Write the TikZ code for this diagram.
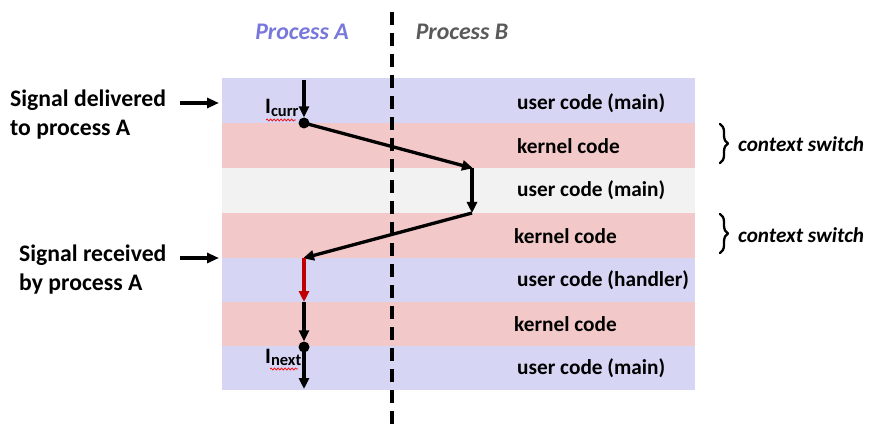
\documentclass[tikz,border=0pt]{standalone}
\usepackage{fontspec}
\setmainfont{Carlito}
\usetikzlibrary{arrows.meta,decorations.pathreplacing,decorations.pathmorphing}
\definecolor{lav}{RGB}{214,214,244}
\definecolor{pnk}{RGB}{242,200,200}
\definecolor{gry}{RGB}{242,242,242}
\definecolor{procA}{RGB}{120,120,220}
\definecolor{procB}{RGB}{90,90,90}
\definecolor{darkred}{RGB}{192,0,0}
\begin{document}
\begin{tikzpicture}[x=1pt,y=-1pt,
  band/.style={draw=none,minimum width=473pt,minimum height=45pt,inner sep=0pt,anchor=north west},
  bandtext/.style={font=\bfseries\fontsize{21.3}{24}\selectfont,anchor=west,inner sep=0pt},
  sidetext/.style={font=\bfseries\fontsize{23.7}{28.5}\selectfont,align=left,anchor=north west,inner sep=0pt},
  flow/.style={line width=3.3pt,-{Triangle[length=11pt,width=10pt]}},
  ptr/.style={line width=3.3pt,-{Triangle[length=12pt,width=10pt]}},
  dotn/.style={circle,fill=black,inner sep=0pt,minimum size=11pt},
  cstext/.style={font=\bfseries\itshape\fontsize{21.2}{24}\selectfont,anchor=west,inner sep=0pt},
  itext/.style={font=\bfseries\fontsize{22}{24}\selectfont,inner sep=0pt},
  squig/.style={draw=red,line width=0.7pt,decorate,decoration={snake,amplitude=1pt,segment length=3.5pt}},
  bracedeco/.style={line width=2.3pt,line cap=round,line join=round,decorate,decoration={brace,amplitude=8pt,aspect=0.5}}
]
\useasboundingbox (0,0) rectangle (885,446);
% bands
\node[band,fill=lav] (b1) at (222,78) {};
\node[band,fill=pnk] (b2) at (222,123) {};
\node[band,fill=gry] (b3) at (222,168) {};
\node[band,fill=pnk] (b4) at (222,213) {};
\node[band,fill=lav] (b5) at (222,258) {};
\node[band,fill=pnk] (b6) at (222,302) {};
\node[band,fill=lav,minimum height=44pt] (b7) at (222,346) {};
% band texts
\node[bandtext] (t1) at (517,103) {user code (main)};
\node[bandtext] (t2) at (517,146) {kernel code};
\node[bandtext] (t3) at (517,190) {user code (main)};
\node[bandtext] (t4) at (514,236) {kernel code};
\node[bandtext] (t5) at (517,280) {user code (handler)};
\node[bandtext] (t6) at (514,324) {kernel code};
\node[bandtext] (t7) at (517,368) {user code (main)};
% process divider
\coordinate (dtop) at (392,12);
\coordinate (dbot) at (392,428);
\draw[line width=3.2pt,dash pattern=on 13pt off 8pt] (dtop) -- (dbot);
% process titles
\node[font=\bfseries\itshape\fontsize{23.8}{26}\selectfont,text=procA,inner sep=0pt] (pa) at (302,32) {Process A};
\node[font=\bfseries\itshape\fontsize{23.8}{26}\selectfont,text=procB,inner sep=0pt] (pb) at (462,32) {Process B};
% flow coordinates
\coordinate (s0) at (304,80);
\node[dotn] (d1) at (304,123) {};
\coordinate (p2) at (472,168);
\coordinate (p3) at (472,213);
\coordinate (p4) at (304,258);
\coordinate (p5) at (304,302);
\node[dotn] (d2) at (304,347) {};
\coordinate (p7) at (304,389);
\draw[flow] (s0) -- (d1.north);
\draw[flow,shorten >=-1pt] (d1.center) -- (p2);
\draw[flow] (p2) -- (p3);
\draw[flow,shorten >=-1pt] (p3) -- (p4);
\draw[flow,draw=darkred,-{Triangle[length=11pt,width=10pt,fill=darkred]}] (p4) -- (p5);
\draw[flow] (p5) -- (d2.north);
\draw[flow] (d2.center) -- (p7);
% instruction labels
\node[itext,anchor=base west] (ic) at (265,114) {I\raisebox{-2.5pt}{\fontsize{16.5}{18}\selectfont curr}};
\node[itext,anchor=base west] (in) at (265,363) {I\raisebox{-2.5pt}{\fontsize{16.5}{18}\selectfont next}};
\draw[squig] (266,120) -- (296,120);
\draw[squig] (270,369) -- (298,369);
% side labels
\node[sidetext] (sd) at (10,90) {Signal delivered\\to process A};
\node[sidetext] (sr) at (19,245) {Signal received\\by process A};
\coordinate (a1s) at (180,103);
\coordinate (a1e) at (219,103);
\coordinate (a2s) at (180,258);
\coordinate (a2e) at (219,258);
\draw[ptr] (a1s) -- (a1e);
\draw[ptr] (a2s) -- (a2e);
% braces
\coordinate (br1t) at (720,124);
\coordinate (br1b) at (720,163);
\coordinate (br2t) at (720,214);
\coordinate (br2b) at (720,253);
\draw[bracedeco] (br1t) -- (br1b);
\draw[bracedeco] (br2t) -- (br2b);
\node[cstext] (cs1) at (738,144) {context switch};
\node[cstext] (cs2) at (738,235) {context switch};
\end{tikzpicture}
\end{document}
